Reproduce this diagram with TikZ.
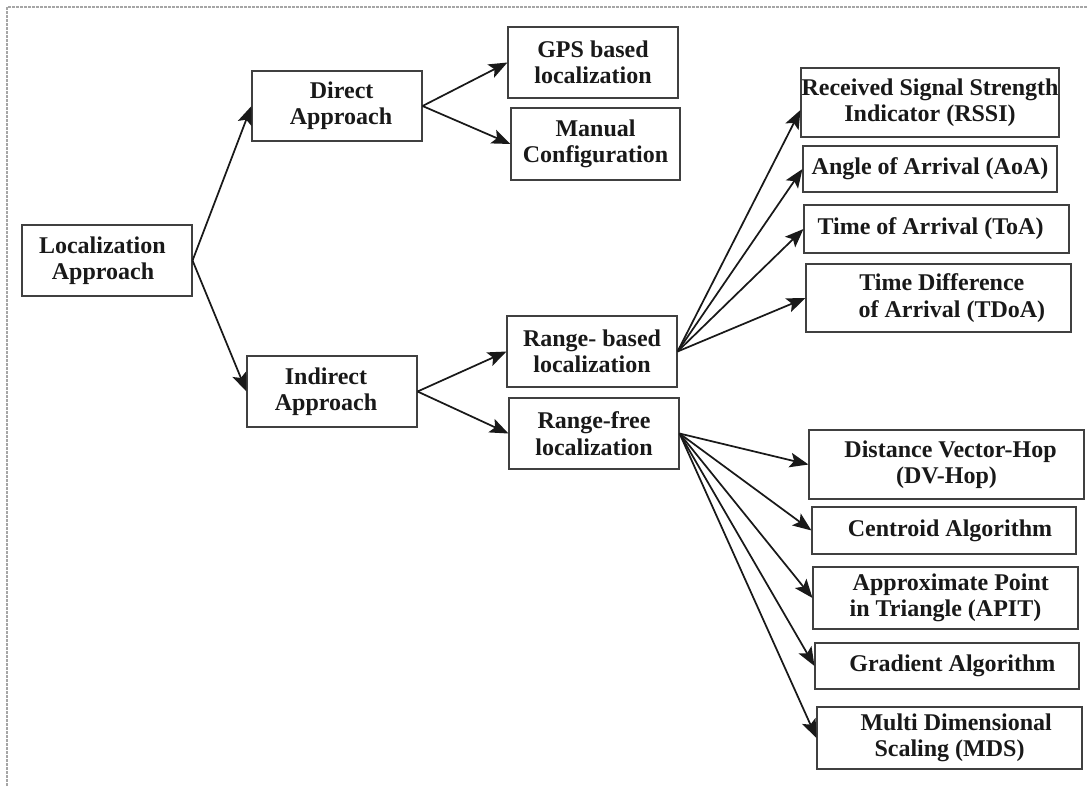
\documentclass[tikz,border=0pt]{standalone}
\usepackage{fontspec}
\setmainfont{Liberation Serif}
\usetikzlibrary{arrows.meta}
\begin{document}
\begin{tikzpicture}[x=0.75pt,y=-0.75pt,
  box/.style 2 args={draw=black!75, line width=0.8pt, inner sep=0pt, align=center,
    minimum width=#1*0.75pt, minimum height=#2*0.75pt,
    font=\bfseries\fontsize{18}{19.8}\selectfont, text=black!90},
  link/.style={draw=black!90, line width=1.3pt, -{Stealth[length=14pt,width=11pt,inset=3pt]}},
  frame/.style={draw=black!35, line width=0.9pt, dash pattern=on 2pt off 1pt}]
\useasboundingbox (0,0) rectangle (1087,786);
\draw[frame] (7,786) -- (7,7) -- (1087,7);

% root and first level
\node[box={170}{71}] (loc) at (107,260.5) {Localization\hspace*{7pt}\\Approach\hspace*{6pt}};
\node[box={170}{70}] (direct) at (337,106) {\hspace*{7pt}Direct\\\hspace*{6pt}Approach};
\node[box={170}{71}] (indirect) at (332,391.5) {Indirect\hspace*{9pt}\\Approach\hspace*{9pt}};

% direct approach
\node[box={170}{71}] (gps) at (593,62.5) {GPS based\\localization};
\node[box={169}{72}] (manual) at (595.5,144) {Manual\\Configuration};

% indirect approach
\node[box={170}{71}] (rb) at (592,351.5) {Range- based\\localization};
\node[box={170}{71}] (rf) at (594,433.5) {Range-free\\localization};

% range-based techniques
\node[box={258}{69}] (rssi) at (930,102.5) {Received Signal Strength\\Indicator (RSSI)};
\node[box={254}{46}] (aoa) at (930,169) {Angle of Arrival (AoA)};
\node[box={265}{48}] (toa) at (936.5,229) {Time of Arrival (ToA)\hspace*{9pt}};
\node[box={265}{68}] (tdoa) at (938.5,298) {\hspace*{5pt}Time Difference\\\hspace*{20pt}of Arrival (TDoA)};

% range-free techniques
\node[box={275}{69}] (dvhop) at (946.5,464.5) {\hspace*{6pt}Distance Vector-Hop\\(DV-Hop)};
\node[box={264}{47}] (centroid) at (944,530.5) {\hspace*{9pt}Centroid Algorithm};
\node[box={265}{62}] (apit) at (945.5,598) {\hspace*{8pt}Approximate Point\\in Triangle (APIT)};
\node[box={264}{46}] (gradient) at (947,666) {\hspace*{8pt}Gradient Algorithm};
\node[box={265}{62}] (mds) at (949.5,738) {\hspace*{10pt}Multi Dimensional\\Scaling (MDS)};

% connectors
\draw[link] (loc.east) -- (direct.west);
\draw[link] (loc.east) -- (indirect.west);
\draw[link] (direct.east) -- (gps.west);
\draw[link] (direct.east) -- (manual.west);
\draw[link] (indirect.east) -- (rb.west);
\draw[link] (indirect.east) -- (rf.west);
\draw[link] (rb.east) -- ([yshift=-5.6pt]rssi.west);
\draw[link] (rb.east) -- (aoa.west);
\draw[link] (rb.east) -- (toa.west);
\draw[link] (rb.east) -- (tdoa.west);
\draw[link] (rf.east) -- (dvhop.west);
\draw[link] (rf.east) -- (centroid.west);
\draw[link] (rf.east) -- (apit.west);
\draw[link] (rf.east) -- (gradient.west);
\draw[link] (rf.east) -- (mds.west);
\end{tikzpicture}
\end{document}
